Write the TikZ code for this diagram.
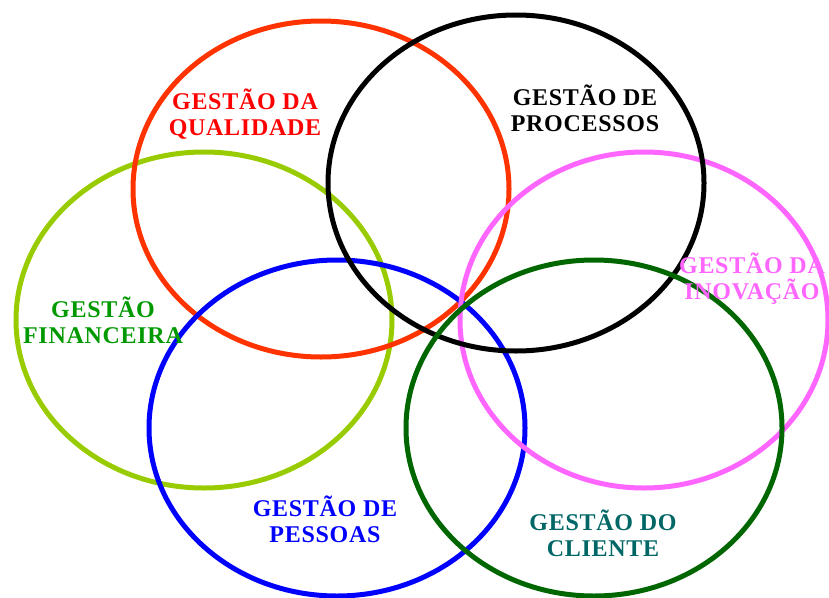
\documentclass[tikz,border=0pt]{standalone}
\usepackage{fontspec}
\setmainfont{Liberation Serif}
\usetikzlibrary{shapes.geometric}
\definecolor{ringred}{HTML}{FF3300}
\definecolor{ringlime}{HTML}{99CC00}
\definecolor{ringpink}{HTML}{FF66FF}
\definecolor{ringgreen}{HTML}{006600}
\definecolor{txtgreen}{HTML}{009900}
\definecolor{txtteal}{HTML}{006666}

\begin{document}
\begin{tikzpicture}
[x=1pt, y=-1pt,
ring/.style ={ ellipse, draw, line width=5pt, fill=none, inner sep=0pt, minimum width=376pt, minimum height=336pt},
label_box/.style ={ align=center, font=\fontsize{24}{26}\selectfont\bfseries\addfontfeature{LetterSpace=3}, inner sep=0pt}
]

\useasboundingbox (0,0) rectangle (829,597);

%%%Ringe%%%
\node [ring, draw=ringlime] (financeira) at (204,320) {};
\node [ring, draw=ringred] (qualidade) at (321,189) {};
\node [ring, draw=blue] (pessoas) at (337,428) {};
\node [ring, draw=ringpink, minimum width=368pt] (inovacao) at (644,320) {};
\node [ring, draw=black] (processos) at (516,183) {};
\node [ring, draw=ringgreen] (cliente) at (594,428) {};

%%%Texte%%%
\node [label_box, text=red] (t_qualidade) at (245,114) {GESTÃO DA\\QUALIDADE};
\node [label_box, text=black] (t_processos) at (585,108) {GESTÃO DE\\PROCESSOS};
\node [label_box, text=txtgreen] (t_financeira) at (103,320) {GESTÃO\\FINANCEIRA};
\node [label_box, text=ringpink] (t_inovacao) at (752,279) {GESTÃO DA\\INOVAÇÃO};
\node [label_box, text=blue] (t_pessoas) at (325,519) {GESTÃO DE\\PESSOAS};
\node [label_box, text=txtteal] (t_cliente) at (603,533) {GESTÃO DO\\CLIENTE};

\end{tikzpicture}
\end{document}
